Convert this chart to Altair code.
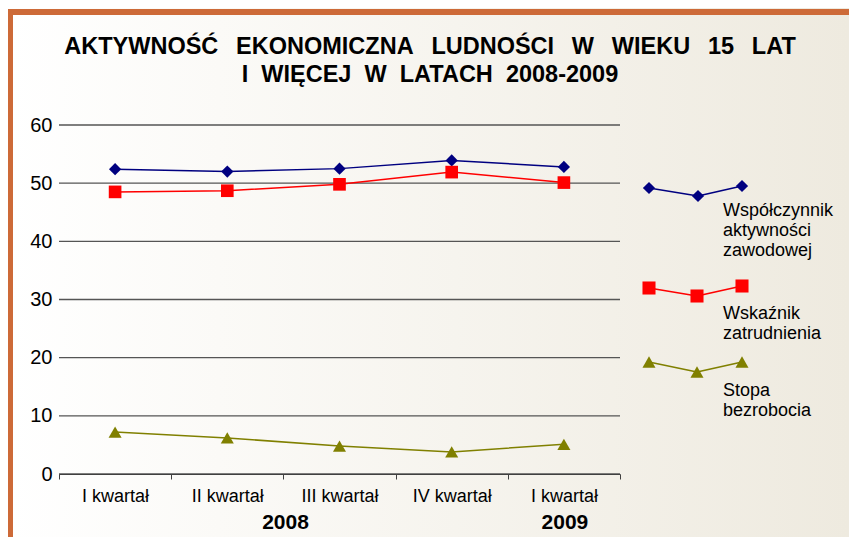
import altair as alt
import pandas as pd

# ---------------- data ----------------
quarters = ["I kwartał", "II kwartał", "III kwartał", "IV kwartał", "I kwartał"]
quarter_years = ["2008", "2008", "2008", "2008", "2009"]
wspolczynnik_aktywnosci = [52.4, 52.0, 52.5, 53.9, 52.8]
wskaznik_zatrudnienia = [48.5, 48.7, 49.8, 51.9, 50.1]
stopa_bezrobocia = [7.2, 6.2, 4.8, 3.8, 5.1]
series_names = ["Współczynnik aktywności zawodowej", "Wskaźnik zatrudnienia", "Stopa bezrobocia"]
legend_labels = ["Współczynnik\naktywności\nzawodowej", "Wskaźnik\nzatrudnienia", "Stopa\nbezrobocia"]
y_ticks = [0, 10, 20, 30, 40, 50, 60]
year_labels = ["2008", "2009"]
title_line1 = ["AKTYWNOŚĆ", "EKONOMICZNA", "LUDNOŚCI", "W", "WIEKU", "15", "LAT"]
title_line2 = ["I", "WIĘCEJ", "W", "LATACH", "2008-2009"]

# ---------------- styles ----------------
colors = ["#000080", "#ff0000", "#808000"]
shapes = ["diamond", "square", "triangle-up"]
sizes = [150, 170, 170]
FONT = "Liberation Sans"
W, H = 561, 349
PAD = {"left": 51, "top": 117, "right": 229, "bottom": 63}
ORANGE = "#cd6a38"

title_text = ("\u00a0\u2009 ".join(title_line1) + "\n" + "\u00a0 ".join(title_line2))

keys = [f"{q}|{y}" for q, y in zip(quarters, quarter_years)]
rows = []
for name, vals in zip(series_names, [wspolczynnik_aktywnosci, wskaznik_zatrudnienia, stopa_bezrobocia]):
    for k, v in zip(keys, vals):
        rows.append({"okres": k, "seria": name, "wartosc": v})
df = pd.DataFrame(rows)

xscale = alt.Scale(type="band", domain=keys, paddingInner=0, paddingOuter=0)
yscale = alt.Scale(domain=[0, 60], nice=False)
xaxis = alt.Axis(title=None, labelExpr="split(datum.label, '|')[0]", tickBand="extent",
                 grid=False, labelFontSize=18, labelFont=FONT, labelColor="black",
                 labelPadding=8, tickSize=5, domainColor="#404040", tickColor="#404040",
                 labelAngle=0, zindex=1)
yaxis = alt.Axis(title=None, values=y_ticks, domain=False, ticks=False, grid=False,
                 labelFontSize=20, labelFont=FONT, labelColor="black", labelPadding=7, zindex=1)

X = alt.X("okres:N", sort=keys, scale=xscale, axis=xaxis, bandPosition=0.5)
color = alt.Color("seria:N", scale=alt.Scale(domain=series_names, range=colors), legend=None)

one = alt.Data(values=[{}])

gradient = alt.LinearGradient(
    gradient="linear",
    stops=[alt.GradientStop(color="#ffffff", offset=0),
           alt.GradientStop(color="#fbfaf7", offset=0.25),
           alt.GradientStop(color="#eeeadf", offset=1)],
    x1=0, x2=1, y1=0, y2=0)

L, R, T, B = -PAD["left"], W + PAD["right"], -PAD["top"], H + PAD["bottom"]

bg = alt.Chart(one).mark_rect(fill=gradient).encode(
    x=alt.value(L), x2=alt.value(R), y=alt.value(T), y2=alt.value(B))
border_top = alt.Chart(one).mark_rect(fill=ORANGE).encode(
    x=alt.value(L), x2=alt.value(R), y=alt.value(T + 1), y2=alt.value(T + 7))
border_left = alt.Chart(one).mark_rect(fill=ORANGE).encode(
    x=alt.value(L), x2=alt.value(L + 5), y=alt.value(T + 1), y2=alt.value(B))

grid = alt.Chart(pd.DataFrame({"wartosc": y_ticks})).mark_rule(
    color="#555555", strokeWidth=1.4).encode(
    y=alt.Y("wartosc:Q", scale=yscale, axis=yaxis), x=alt.value(0), x2=alt.value(W))

lines = alt.Chart(df).mark_line(strokeWidth=1.5).encode(
    x=X, y=alt.Y("wartosc:Q", scale=yscale, axis=yaxis), color=color, detail="seria:N")
points = alt.Chart(df).mark_point(filled=True, opacity=1).encode(
    x=X, y=alt.Y("wartosc:Q", scale=yscale, axis=yaxis), color=color,
    shape=alt.Shape("seria:N", scale=alt.Scale(domain=series_names, range=shapes), legend=None),
    size=alt.Size("seria:N", scale=alt.Scale(domain=series_names, range=sizes), legend=None))

year_df = pd.DataFrame({"okres": [keys[2], keys[4]], "rok": year_labels, "przes": [-54, 1]})
years_layers = []
for i in range(len(year_labels)):
    years_layers.append(
        alt.Chart(year_df.iloc[[i]]).mark_text(
            font=FONT, fontSize=21, fontWeight="bold", color="black",
            baseline="alphabetic", align="center", dx=int(year_df["przes"][i])).encode(
            x=X, y=alt.value(H + 55), text="rok:N"))

title = alt.Chart(one).mark_text(
    text=title_text, lineBreak="\n", font=FONT, fontSize=23.5, fontWeight="bold",
    color="black", align="center", baseline="alphabetic", lineHeight=28.4).encode(
    x=alt.value(371), y=alt.value(-71))

# legend decoration
legend_pts = [
    [(590, 63), (639, 71), (683, 61)],
    [(590, 163), (638, 171), (683, 161)],
    [(590, 237), (638, 247), (683, 237)],
]
legend_text_y = [91, 194, 271]
legend_layers = []
for i in range(3):
    pts = legend_pts[i]
    for (x1, y1), (x2, y2) in zip(pts[:-1], pts[1:]):
        legend_layers.append(alt.Chart(one).mark_rule(color=colors[i], strokeWidth=1.5).encode(
            x=alt.value(x1), y=alt.value(y1), x2=alt.value(x2), y2=alt.value(y2)))
    for (px, py) in pts:
        legend_layers.append(alt.Chart(one).mark_point(
            shape=shapes[i], filled=True, opacity=1, color=colors[i], size=sizes[i]).encode(
            x=alt.value(px), y=alt.value(py)))
    legend_layers.append(alt.Chart(one).mark_text(
        text=legend_labels[i], lineBreak="\n", font=FONT, fontSize=18, color="black",
        align="left", baseline="alphabetic", lineHeight=20).encode(
        x=alt.value(664), y=alt.value(legend_text_y[i])))

chart = alt.layer(bg, border_top, border_left, grid, lines, points, *years_layers, title,
                  *legend_layers).properties(
    width=W, height=H, padding=PAD,
    autosize=alt.AutoSizeParams(type="none")
).configure_view(stroke=None)

chart.save("out.html", embed_options={"renderer": "svg", "actions": False})
